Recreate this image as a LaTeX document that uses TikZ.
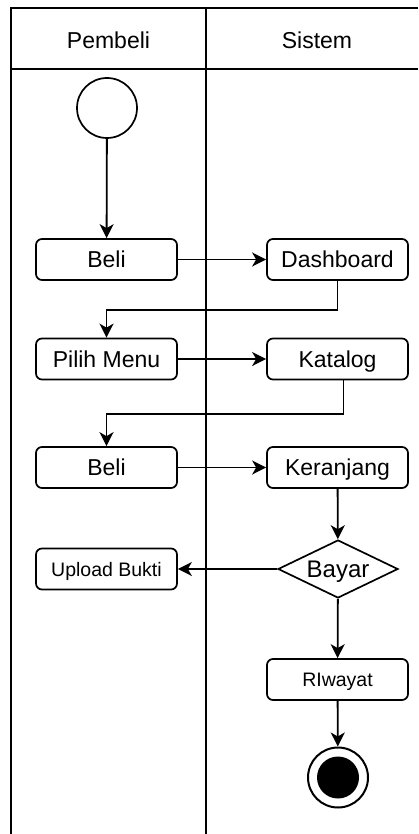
\documentclass[tikz,border=0pt]{standalone}
\usepackage{fontspec}
\setmainfont{Liberation Sans}
\usetikzlibrary{arrows.meta,shapes.geometric}

\tikzset{
  aksi/.style={draw, rounded corners=6pt, line width=1.7pt, minimum width=141pt,
    minimum height=41pt, inner sep=0pt, text height=16.5pt, text depth=0pt,
    font=\fontsize{23}{26}\selectfont},
  aksikecil/.style={aksi, text height=14pt, font=\fontsize{19.5}{22}\selectfont},
  keputusan/.style={draw, diamond, aspect=2, line width=1.7pt, minimum width=120pt,
    minimum height=58pt, inner sep=0pt, text height=17.2pt, text depth=0pt,
    font=\fontsize{24}{26}\selectfont},
  mulai/.style={draw, circle, line width=1.7pt, minimum size=60pt, inner sep=0pt},
  selesai/.style={draw, circle, line width=2pt, minimum size=60pt, inner sep=0pt,
    path picture={\fill (path picture bounding box.center) circle (21pt);}},
  judul/.style={text height=16.5pt, text depth=0pt, font=\fontsize{23}{26}\selectfont},
  jalur/.style={line width=2.4pt},
  panah/.style={-{Stealth[length=14pt,width=14pt,inset=4pt]}, line width=1.8pt}
}

\begin{document}
\begin{tikzpicture}[x=1pt, y=-1pt]
  \useasboundingbox (0,0) rectangle (418,834);

  % swimlanes
  \draw[jalur] (418,8) -- (11,8) -- (11,834);
  \draw[jalur] (11,69) -- (418,69);
  \draw[line width=2.8pt] (206,8) -- (206,834);
  \node[judul] (pembeli) at (108.5,40) {Pembeli};
  \node[judul] (sistem) at (317,40) {Sistem};

  % nodes
  \node[mulai] (awal) at (107,108) {};
  \node[aksi] (beli1) at (106.5,259.5) {Beli};
  \node[aksi] (dash) at (337.5,259.5) {Dashboard};
  \node[aksi] (pilih) at (106.5,359) {Pilih Menu};
  \node[aksi] (katalog) at (337.5,359) {Katalog};
  \node[aksi] (beli2) at (106.5,467.5) {Beli};
  \node[aksi] (keranjang) at (337.5,467.5) {Keranjang};
  \node[keputusan] (bayar) at (338,569) {Bayar};
  \node[aksikecil] (upload) at (106.5,569) {Upload Bukti};
  \node[aksikecil] (riwayat) at (337.5,679.5) {RIwayat};
  \node[selesai] (akhir) at (338,777.5) {};

  % connectors
  \draw[panah] (awal) -- (beli1);
  \draw[panah] (beli1) -- (dash);
  \draw[panah] (dash.south) -- ++(0,29) -| (pilih.north);
  \draw[panah] (pilih) -- (katalog);
  \draw[panah] ([xshift=6pt]katalog.south) -- ++(0,34) -| (beli2.north);
  \draw[panah] (beli2) -- (keranjang);
  \draw[panah] (keranjang) -- (bayar);
  \draw[panah] (bayar) -- (upload);
  \draw[panah] (bayar) -- (riwayat);
  \draw[panah] (riwayat) -- (akhir);
\end{tikzpicture}
\end{document}
